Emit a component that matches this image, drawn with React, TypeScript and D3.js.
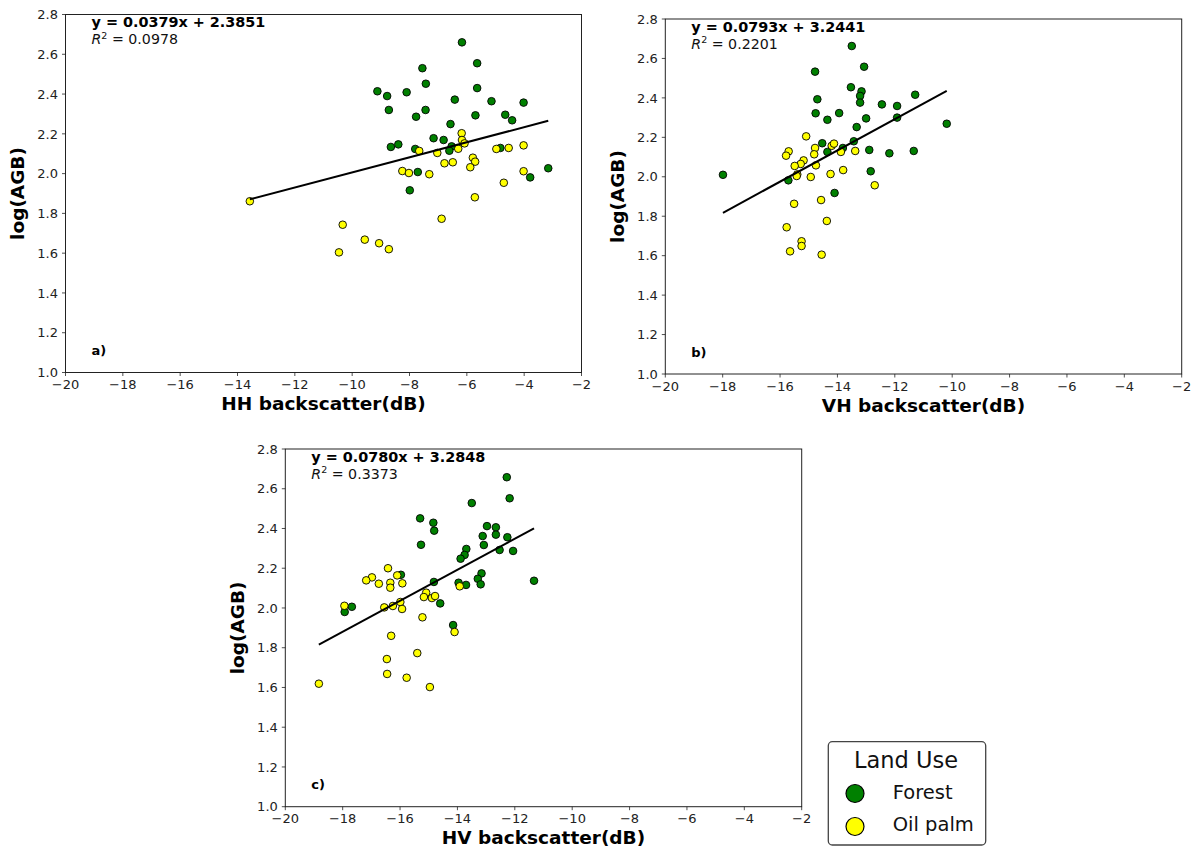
import React from "react";
import * as d3 from "d3";

// ---- Data: [backscatter (dB), log(AGB)] ----
const hhForest: [number, number][] = [
  [-6.17, 2.66], [-5.64, 2.555], [-7.55, 2.53], [-7.43, 2.452], [-5.64, 2.43],
  [-9.12, 2.414], [-8.78, 2.39], [-8.1, 2.409], [-6.42, 2.372], [-5.14, 2.364],
  [-4.02, 2.357], [-8.72, 2.32], [-7.44, 2.32], [-7.77, 2.286], [-5.7, 2.293],
  [-4.66, 2.296], [-4.42, 2.268], [-6.57, 2.249], [-7.16, 2.178], [-6.81, 2.169],
  [-8.65, 2.134], [-8.39, 2.147], [-7.8, 2.124], [-6.53, 2.137], [-6.61, 2.115],
  [-4.83, 2.129], [-7.71, 2.008], [-3.79, 1.981], [-3.16, 2.027], [-7.99, 1.916],
];
const hhPalm: [number, number][] = [
  [-13.57, 1.861], [-10.33, 1.743], [-10.46, 1.604], [-9.56, 1.668], [-9.06, 1.65],
  [-8.72, 1.62], [-6.88, 1.773], [-5.72, 1.881], [-4.71, 1.954], [-4.02, 2.012],
  [-8.25, 2.013], [-8.02, 2.003], [-7.31, 1.997], [-7.66, 2.114], [-7.03, 2.104],
  [-6.78, 2.052], [-6.49, 2.057], [-6.3, 2.125], [-6.18, 2.203], [-6.17, 2.169],
  [-6.08, 2.152], [-5.79, 2.08], [-5.71, 2.06], [-5.88, 2.032], [-4.97, 2.124],
  [-4.54, 2.129], [-4.02, 2.142],
];

const vhForest: [number, number][] = [
  [-13.5, 2.663], [-13.07, 2.558], [-14.78, 2.533], [-13.53, 2.454], [-13.16, 2.433],
  [-13.21, 2.41], [-13.21, 2.376], [-14.7, 2.393], [-12.45, 2.367], [-11.92, 2.359],
  [-11.29, 2.416], [-14.76, 2.322], [-13.94, 2.323], [-14.35, 2.289], [-13.0, 2.296],
  [-11.92, 2.3], [-13.33, 2.252], [-10.19, 2.269], [-13.43, 2.18], [-14.53, 2.17],
  [-13.81, 2.146], [-14.35, 2.126], [-12.89, 2.136], [-12.19, 2.119], [-11.34, 2.131],
  [-12.84, 2.028], [-15.71, 1.982], [-17.99, 2.01], [-14.1, 1.918],
];
const vhPalm: [number, number][] = [
  [-15.09, 2.205], [-15.7, 2.129], [-15.79, 2.107], [-14.78, 2.146], [-14.81, 2.114],
  [-15.18, 2.083], [-15.28, 2.065], [-15.49, 2.055], [-14.75, 2.058], [-15.4, 2.012],
  [-15.42, 2.004], [-14.93, 1.999], [-14.24, 2.014], [-13.8, 2.034], [-14.2, 2.157],
  [-14.12, 2.168], [-13.88, 2.126], [-13.38, 2.131], [-12.7, 1.957], [-15.51, 1.863],
  [-14.57, 1.882], [-14.37, 1.776], [-15.77, 1.744], [-15.25, 1.673], [-15.25, 1.649],
  [-15.65, 1.622], [-14.55, 1.605],
];

const hvForest: [number, number][] = [
  [-12.28, 2.658], [-12.18, 2.552], [-13.5, 2.528], [-15.3, 2.451], [-14.84, 2.429],
  [-14.81, 2.389], [-12.97, 2.412], [-12.66, 2.406], [-12.66, 2.369], [-13.12, 2.362],
  [-13.08, 2.317], [-12.26, 2.356], [-12.53, 2.292], [-12.06, 2.287], [-15.27, 2.318],
  [-13.69, 2.297], [-13.75, 2.267], [-13.89, 2.248], [-11.33, 2.137], [-13.16, 2.174],
  [-13.29, 2.147], [-13.19, 2.119], [-13.96, 2.127], [-13.7, 2.116], [-14.82, 2.131],
  [-15.97, 2.167], [-14.6, 2.023], [-17.68, 2.006], [-17.93, 1.98], [-14.15, 1.914],
];
const hvPalm: [number, number][] = [
  [-16.42, 2.2], [-16.98, 2.154], [-17.18, 2.139], [-16.74, 2.122], [-16.34, 2.127],
  [-16.34, 2.102], [-16.1, 2.164], [-15.92, 2.124], [-17.94, 2.011], [-16.55, 2.003],
  [-16.25, 2.01], [-15.99, 2.03], [-15.93, 1.995], [-15.09, 2.077], [-15.17, 2.055],
  [-14.89, 2.05], [-14.78, 2.06], [-13.92, 2.109], [-15.22, 1.953], [-14.1, 1.879],
  [-16.31, 1.86], [-15.4, 1.773], [-16.46, 1.743], [-16.45, 1.668], [-15.77, 1.649],
  [-14.96, 1.602], [-18.83, 1.619],
];

// Fitted regression: [slope, intercept, R²]
const hhFit = [0.0379, 2.3851, 0.0978];
const vhFit = [0.0793, 3.2441, 0.2201];
const hvFit = [0.078, 3.2848, 0.3373];

const xTicks = [-20, -18, -16, -14, -12, -10, -8, -6, -4, -2];
const yTicks = [1.0, 1.2, 1.4, 1.6, 1.8, 2.0, 2.2, 2.4, 2.6, 2.8];
const landUse = ["Forest", "Oil palm"];
const landColors = ["#008000", "#ffff00"];

const FONT = "DejaVu Sans, Verdana, sans-serif";
const fmtX = (v: number) => (v < 0 ? "\u2212" + Math.abs(v) : String(v));

type PanelProps = {
  left: number;
  top: number;
  width: number;
  height: number;
  forest: [number, number][];
  palm: [number, number][];
  fit: number[];
  xLabel: string;
  tag: string;
};

function Panel({ left, top, width, height, forest, palm, fit, xLabel, tag }: PanelProps) {
  const x = d3.scaleLinear().domain([-20, -2]).range([left, left + width]);
  const y = d3.scaleLinear().domain([1.0, 2.8]).range([top + height, top]);
  const [slope, intercept, r2] = fit;
  const allX = [...forest, ...palm].map((d) => d[0]);
  const [x0, x1] = d3.extent(allX) as [number, number];
  const line = d3
    .line<number>()
    .x((v) => x(v))
    .y((v) => y(slope * v + intercept));
  const bottom = top + height;
  const axisColor = "#222";
  return (
    <g fontFamily={FONT}>
      {/* points */}
      {forest.map((d, i) => (
        <circle key={"f" + i} cx={x(d[0])} cy={y(d[1])} r={3.8} fill={landColors[0]} stroke="#000" strokeWidth={0.9} />
      ))}
      {palm.map((d, i) => (
        <circle key={"p" + i} cx={x(d[0])} cy={y(d[1])} r={3.8} fill={landColors[1]} stroke="#000" strokeWidth={0.9} />
      ))}
      <path d={line([x0, x1]) || ""} stroke="#000" strokeWidth={2} fill="none" />

      {/* frame */}
      <rect x={left} y={top} width={width} height={height} fill="none" stroke={axisColor} strokeWidth={1} />

      {/* x ticks */}
      {xTicks.map((t) => (
        <g key={"xt" + t}>
          <line x1={x(t)} x2={x(t)} y1={bottom} y2={bottom + 3.5} stroke={axisColor} strokeWidth={0.8} />
          <text x={x(t)} y={bottom + 16.5} textAnchor="middle" fontSize={13} fill="#222">
            {fmtX(t)}
          </text>
        </g>
      ))}
      {/* y ticks */}
      {yTicks.map((t) => (
        <g key={"yt" + t}>
          <line x1={left - 3.5} x2={left} y1={y(t)} y2={y(t)} stroke={axisColor} strokeWidth={0.8} />
          <text x={left - 7.5} y={y(t)} dy="0.36em" textAnchor="end" fontSize={13} fill="#222">
            {t.toFixed(1)}
          </text>
        </g>
      ))}

      {/* axis labels */}
      <text x={left + width / 2} y={bottom + 37.5} textAnchor="middle" fontSize={18.5} fontWeight="bold" fill="#000">
        {xLabel}
      </text>
      <text
        transform={`translate(${left - 41.5},${top + height / 2}) rotate(-90)`}
        textAnchor="middle"
        fontSize={18.5}
        fontWeight="bold"
        fill="#000"
      >
        log(AGB)
      </text>

      {/* regression annotation */}
      <text x={left + 26} y={top + 12.8} fontSize={14.4} fontWeight="bold" fill="#000">
        {`y = ${slope.toFixed(4)}x + ${intercept.toFixed(4)}`}
      </text>
      <text x={left + 26} y={top + 29.5} fontSize={14.2} fill="#111">
        <tspan fontStyle="italic">R</tspan>
        <tspan dy={-5.5} fontSize={9.5}>2</tspan>
        <tspan dy={5.5}>{` = ${r2.toFixed(4)}`}</tspan>
      </text>
      <text x={left + 26} y={bottom - 17.5} fontSize={13} fontWeight="bold" fill="#000">
        {tag}
      </text>
    </g>
  );
}

export default function App() {
  return (
    <svg
      width={1195}
      height={854}
      style={{ position: "absolute", left: 0, top: 0, background: "#fff" }}
    >
      <rect width={1195} height={854} fill="#fff" />
      <Panel left={65.5} top={14.5} width={516} height={358} forest={hhForest} palm={hhPalm} fit={hhFit} xLabel="HH backscatter(dB)" tag="a)" />
      <Panel left={665.3} top={19} width={516.4} height={355} forest={vhForest} palm={vhPalm} fit={vhFit} xLabel="VH backscatter(dB)" tag="b)" />
      <Panel left={285.3} top={449} width={516.4} height={357.7} forest={hvForest} palm={hvPalm} fit={hvFit} xLabel="HV backscatter(dB)" tag="c)" />

      {/* legend */}
      <g fontFamily={FONT}>
        <rect x={828.3} y={741.7} width={157.4} height={103.3} rx={4} fill="#fff" stroke="#444" strokeWidth={1.3} />
        <text x={906} y={768} textAnchor="middle" fontSize={22.5} fill="#111">
          Land Use
        </text>
        {landUse.map((name, i) => (
          <g key={name}>
            <circle cx={855} cy={793.5 + i * 33} r={9} fill={landColors[i]} stroke="#000" strokeWidth={1.2} />
            <text x={892.7} y={798.5 + i * 32} fontSize={19.5} fill="#111">
              {name}
            </text>
          </g>
        ))}
      </g>
    </svg>
  );
}
